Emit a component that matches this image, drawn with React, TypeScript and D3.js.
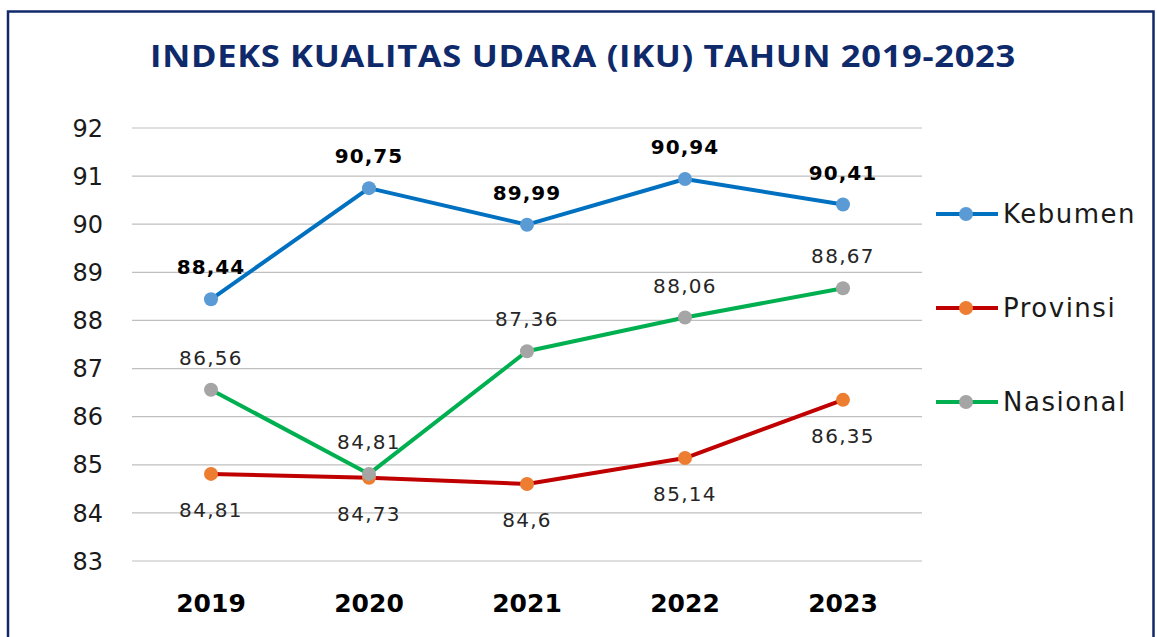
import React from 'react';
import * as d3 from 'd3';

const years = ['2019', '2020', '2021', '2022', '2023'];
const kebumen = [88.44, 90.75, 89.99, 90.94, 90.41];
const provinsi = [84.81, 84.73, 84.6, 85.14, 86.35];
const nasional = [86.56, 84.81, 87.36, 88.06, 88.67];
const yTicks = [83, 84, 85, 86, 87, 88, 89, 90, 91, 92];

const series = [
	{ name: 'Kebumen', values: kebumen, line: '#0070C0', dot: '#5B9BD5', labelPos: 'above', bold: true },
	{ name: 'Provinsi', values: provinsi, line: '#C00000', dot: '#ED7D31', labelPos: 'below', bold: false },
	{ name: 'Nasional', values: nasional, line: '#00B050', dot: '#A5A5A5', labelPos: 'above', bold: false },
];

const fmt = (v: number) => String(v).replace('.', ',');

const App: React.FC = () => {
	const width = 1157;
	const height = 637;
	const left = 132;
	const right = 922;

	const x = d3.scaleBand<string>().domain(years).range([left, right]);
	const y = d3.scaleLinear().domain([83, 92]).range([561, 128]);
	const cx = (yr: string) => (x(yr) as number) + x.bandwidth() / 2;

	const line = d3.line<number>()
		.x((_, i) => cx(years[i]))
		.y(d => y(d));

	return (
		<svg width={width} height={height} style={{ position: 'absolute', left: 0, top: 0, background: '#fff' }}>
			<rect x={0} y={0} width={width} height={height} fill="#fff" />
			{/* frame */}
			<path d={`M8,${height + 5} V11.5 H1153.5 V${height + 5}`} fill="none" stroke="#10296B" strokeWidth={2.5} />

			<g transform="translate(583,67) scale(1.15,1)">
				<text x={0} y={0} textAnchor="middle" fontFamily="'Open Sans', sans-serif" fontWeight={700}
					fontSize={30} letterSpacing={0.6} fill="#0F2A6B">INDEKS KUALITAS UDARA (IKU) TAHUN 2019-2023</text>
			</g>

			{/* grid + y ticks */}
			{yTicks.map(t => (
				<g key={t}>
					<line x1={left} x2={right} y1={y(t)} y2={y(t)} stroke="#BFBFBF" strokeWidth={1.2} />
					<text x={103} y={y(t)} dy="0.36em" textAnchor="end" fontFamily="'DejaVu Sans', sans-serif"
						fontSize={24} fill="#1a1a1a">{t}</text>
				</g>
			))}

			{/* x labels */}
			{years.map(yr => (
				<text key={yr} x={cx(yr)} y={603} dy="0.36em" textAnchor="middle" fontFamily="'DejaVu Sans', sans-serif"
					fontWeight={700} fontSize={25} fill="#000">{yr}</text>
			))}

			{/* lines */}
			{series.map(s => (
				<path key={s.name} d={line(s.values) || ''} fill="none" stroke={s.line} strokeWidth={4} strokeLinejoin="round" />
			))}
			{series.map(s => (
				<g key={s.name + '-dots'}>
					{s.values.map((v, i) => (
						<circle key={i} cx={cx(years[i])} cy={y(v)} r={7} fill={s.dot} />
					))}
				</g>
			))}

			{/* data labels */}
			{series.map(s => (
				<g key={s.name + '-labels'}>
					{s.values.map((v, i) => (
						<text key={i} x={cx(years[i])} y={y(v) + (s.labelPos === 'above' ? -32 : 36)} dy="0.36em"
							textAnchor="middle" fontFamily="'DejaVu Sans', sans-serif"
							fontWeight={s.bold ? 700 : 400} fontSize={20} letterSpacing={s.bold ? 1 : 1.3}
							fill={s.bold ? '#000' : '#262626'}>{fmt(v)}</text>
					))}
				</g>
			))}

			{/* legend */}
			{series.map((s, i) => {
				const ly = 214 + i * 94;
				return (
					<g key={s.name + '-legend'}>
						<line x1={936} x2={998} y1={ly} y2={ly} stroke={s.line} strokeWidth={4} />
						<circle cx={966} cy={ly} r={7} fill={s.dot} />
						<text x={1003} y={ly} dy="0.36em" fontFamily="'DejaVu Sans', sans-serif" fontSize={26}
							letterSpacing={1.5} fill="#1a1a1a">{s.name}</text>
					</g>
				);
			})}
		</svg>
	);
};

export default App;
